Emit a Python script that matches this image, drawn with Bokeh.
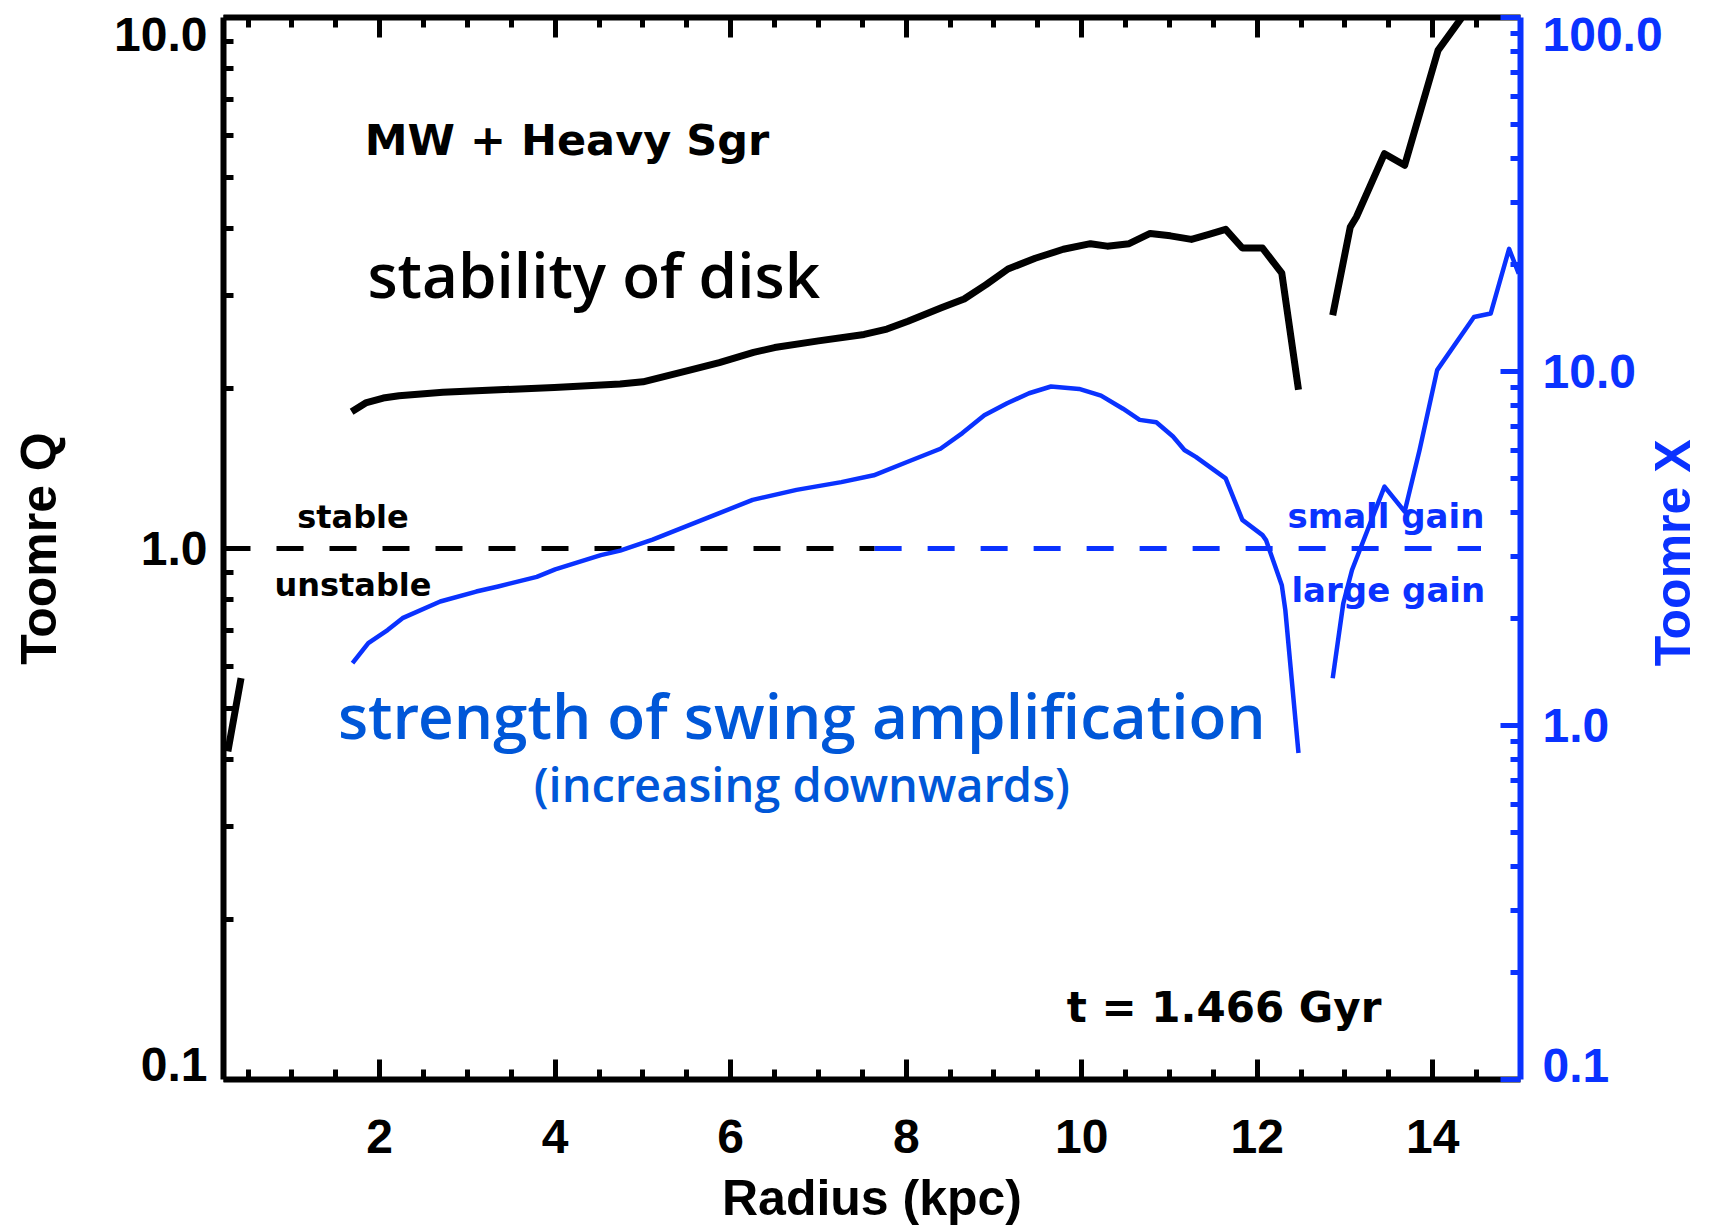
import math
import numpy as np
from bokeh.plotting import figure
from bokeh.models import (Range1d, LogAxis, LinearAxis, LogScale, FixedTicker,
                          CustomJSTickFormatter, Label)
from bokeh.embed import file_html
from bokeh.resources import INLINE

nan = float("nan")

# Toomre Q of the disk against radius (kpc); NaN breaks the profile into pieces
radius_q = np.array([0.27, 0.42, nan,
                     1.68, 1.84, 2.04, 2.22, 2.72, 3.36, 3.99, 4.74, 5.00, 5.25, 5.50,
                     5.87, 6.26, 6.50, 7.00, 7.52, 7.78, 8.02, 8.40, 8.66, 8.91, 9.16,
                     9.47, 9.79, 10.10, 10.29, 10.54, 10.78, 11.01, 11.25, 11.44, 11.64,
                     11.83, 12.06, 12.28, 12.47, nan,
                     12.86, 13.06, 13.13, 13.45, 13.68, 14.06, 14.32, 14.55])
toomre_q = np.array([0.415, 0.57, nan,
                     1.81, 1.88, 1.92, 1.94, 1.97, 1.99, 2.01, 2.04, 2.06, 2.11, 2.16,
                     2.24, 2.34, 2.39, 2.46, 2.53, 2.59, 2.68, 2.84, 2.95, 3.14, 3.36,
                     3.52, 3.66, 3.75, 3.71, 3.75, 3.92, 3.88, 3.82, 3.90, 3.99,
                     3.68, 3.68, 3.30, 1.99, nan,
                     2.75, 4.03, 4.21, 5.54, 5.27, 8.67, 9.94, 13.0])

# Toomre X (swing amplification parameter) against radius (kpc)
radius_x = np.array([1.69, 1.87, 2.09, 2.26, 2.69, 3.10, 3.35, 3.79, 4.00, 4.52, 4.74,
                     5.11, 5.49, 5.87, 6.25, 6.75, 7.26, 7.63, 8.01, 8.39, 8.64, 8.89,
                     9.15, 9.40, 9.65, 9.97, 10.22, 10.47, 10.66, 10.85, 11.04, 11.17,
                     11.30, 11.64, 11.83, 12.06, 12.10, 12.28, 12.32, 12.47, nan,
                     12.86, 12.98, 13.08, 13.45, 13.68, 13.85, 14.05, 14.47, 14.66,
                     14.87, 14.98])
toomre_x = np.array([1.50, 1.71, 1.86, 2.01, 2.24, 2.39, 2.47, 2.63, 2.76, 3.03, 3.12,
                     3.35, 3.65, 3.98, 4.34, 4.63, 4.87, 5.09, 5.55, 6.05, 6.70, 7.52,
                     8.13, 8.68, 9.07, 8.93, 8.55, 7.85, 7.30, 7.19, 6.55, 6.00,
                     5.74, 4.99, 3.81, 3.45, 3.34, 2.49, 2.12, 0.836, nan,
                     1.36, 2.21, 2.75, 4.73, 4.02, 6.00, 10.09, 14.26, 14.58,
                     22.2, 18.9])

# Marginal-stability level (Q = 1), split into the Q part and the X part
q_crit = 1.0
crit_black_r = [0.22, 7.64]
crit_blue_r = [7.64, 14.55]

# Axis ticks
r_major = [2, 4, 6, 8, 10, 12, 14]
r_minor = [0.5 * k for k in range(1, 30) if k % 4 != 0]
q_major = [0.1, 1, 10]
q_minor = [0.2, 0.3, 0.4, 0.5, 0.6, 0.7, 0.8, 0.9, 2, 3, 4, 5, 6, 7, 8, 9]
x_major = [0.1, 1, 10, 100]
x_minor = q_minor + [20, 30, 40, 50, 60, 70, 80, 90]

# Tick-label text and where it sits (end labels are tucked inside the frame height)
q_label_text = ["10.0", "1.0", "0.1"]
q_label_at = [9.29, 1.0, 0.1067]
x_label_text = ["100.0", "10.0", "1.0", "0.1"]
x_label_at = [89.5, 10.0, 1.0, 0.1095]
x_title_at = [1.47]   # lower end of the upright "Toomre X" title

BLUE = "#0a32ff"
TEXT_BLUE = "#0057d8"
IDL_FONT = "DejaVu Sans"
AXIS_FONT = "Liberation Sans"
HAND_FONT = "Open Sans SemiBold, Open Sans"

# half of (ascent - descent) per font, used to sit text on its baseline
MID = {IDL_FONT: 0.346, AXIS_FONT: 0.3465, HAND_FONT: 0.388}

p = figure(width=1736, height=1228, x_range=Range1d(0.22, 15.0),
           y_range=Range1d(0.1, 10.0), y_axis_type="log",
           output_backend="svg", toolbar_location=None,
           min_border_left=223, min_border_right=216,
           min_border_top=17, min_border_bottom=148)
p.extra_y_ranges = {"gain": Range1d(0.1, 100.0)}
p.extra_y_scales = {"gain": LogScale()}
p.outline_line_color = None
p.background_fill_color = "white"
p.border_fill_color = "white"
p.xgrid.visible = False
p.ygrid.visible = False

NO_LABELS = CustomJSTickFormatter(code="return ''")


def style_axis(ax, color):
    ax.axis_line_width = 6
    ax.axis_line_color = color
    ax.major_tick_line_color = color
    ax.minor_tick_line_color = color
    ax.major_tick_line_width = 5
    ax.minor_tick_line_width = 5
    ax.major_tick_in = 20
    ax.major_tick_out = 0
    ax.minor_tick_in = 10
    ax.minor_tick_out = 0
    ax.major_label_text_font = AXIS_FONT
    ax.major_label_text_font_style = "bold"
    ax.major_label_text_font_size = "48px"
    ax.major_label_text_color = color
    ax.axis_label_text_font = AXIS_FONT
    ax.axis_label_text_font_style = "bold"
    ax.axis_label_text_font_size = "50px"
    ax.axis_label_text_color = color


def label_axis(ax, color, texts):
    """An axis that only carries text: no line, no ticks."""
    style_axis(ax, color)
    ax.axis_line_color = None
    ax.major_tick_line_color = None
    ax.minor_tick_line_color = None
    ax.major_tick_in = 0
    ax.minor_tick_in = 0
    ax.formatter = CustomJSTickFormatter(args=dict(texts=texts),
                                         code="return texts[index]")


# bottom axis
xax = p.xaxis[0]
style_axis(xax, "black")
xax.ticker = FixedTicker(ticks=r_major, minor_ticks=r_minor)
xax.axis_label = "Radius (kpc)"
xax.major_label_standoff = 40
xax.axis_label_standoff = 14

# top axis: ticks only
top = LinearAxis(ticker=FixedTicker(ticks=r_major, minor_ticks=r_minor))
style_axis(top, "black")
top.formatter = NO_LABELS
top.major_label_standoff = 0
p.add_layout(top, "above")

# left axis (Toomre Q): line and ticks, then a text-only axis outside it
yax = p.yaxis[0]
style_axis(yax, "black")
yax.ticker = FixedTicker(ticks=q_major, minor_ticks=q_minor)
yax.formatter = NO_LABELS
yax.major_label_standoff = 0

ylab = LogAxis(ticker=FixedTicker(ticks=q_label_at))
label_axis(ylab, "black", q_label_text)
ylab.major_label_standoff = 16
ylab.axis_label = "Toomre Q"
ylab.axis_label_standoff = 44
p.add_layout(ylab, "left")

# right axis (Toomre X): line and ticks, tick text, upright title
rax = LogAxis(y_range_name="gain", ticker=FixedTicker(ticks=x_major, minor_ticks=x_minor))
style_axis(rax, BLUE)
rax.formatter = NO_LABELS
rax.major_label_standoff = 0
p.add_layout(rax, "right")

rlab = LogAxis(y_range_name="gain", ticker=FixedTicker(ticks=x_label_at))
label_axis(rlab, BLUE, x_label_text)
rlab.major_label_standoff = 22
p.add_layout(rlab, "right")

rtitle = LogAxis(y_range_name="gain", ticker=FixedTicker(ticks=x_title_at))
label_axis(rtitle, BLUE, ["Toomre X"])
rtitle.major_label_text_font_size = "50px"
rtitle.major_label_orientation = math.pi / 2
rtitle.major_label_standoff = 8
p.add_layout(rtitle, "right")

# stability threshold
p.line(crit_black_r, [q_crit, q_crit], line_color="black", line_width=5, line_dash="27 26")
p.line(crit_blue_r, [q_crit, q_crit], line_color=BLUE, line_width=5, line_dash="27 26")

# profiles
p.line(radius_x, toomre_x, y_range_name="gain", line_color=BLUE, line_width=4.5,
       line_join="round")
p.line(radius_q, toomre_q, line_color="black", line_width=7, line_join="round")


def add_text(x, y, text, size, color="black", font=IDL_FONT, style="bold",
             align="left"):
    p.add_layout(Label(x=x, y=y, text=text, text_font=font, text_font_style=style,
                       text_font_size=f"{size}px", text_color=color,
                       text_align=align, text_baseline="middle",
                       y_offset=round(MID[font] * size)))


add_text(1.83, 5.50, "MW + Heavy Sgr", 43)
add_text(1.86, 2.965, "stability of disk", 62, font=HAND_FONT, style="normal")
add_text(1.06, 1.093, "stable", 32)
add_text(0.80, 0.814, "unstable", 32)
add_text(12.345, 1.093, "small gain", 34, color=BLUE)
add_text(12.39, 0.794, "large gain", 34, color=BLUE)
add_text(6.81, 0.437, "strength of swing amplification", 62, color=TEXT_BLUE,
         font=HAND_FONT, style="normal", align="center")
add_text(6.81, 0.3326, "(increasing downwards)", 47, color=TEXT_BLUE,
         font=HAND_FONT, style="normal", align="center")
add_text(9.83, 0.128, "t = 1.466 Gyr", 42)

open("out.html", "w").write(file_html(p, INLINE))
